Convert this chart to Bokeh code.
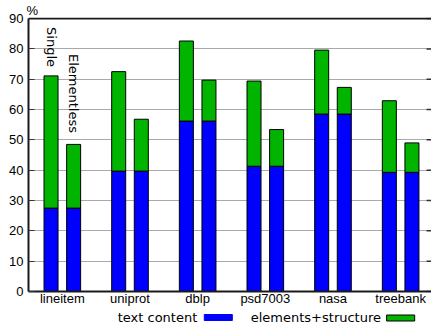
import math

from bokeh.core.properties import value
from bokeh.embed import file_html
from bokeh.layouts import column
from bokeh.models import FixedTicker, Label, Range1d, Span
from bokeh.plotting import figure
from bokeh.resources import INLINE

# Share of document size (%) per dataset
datasets = ["lineitem", "uniprot", "dblp", "psd7003", "nasa", "treebank"]
text_content = [27.5, 39.7, 56.2, 41.3, 58.5, 39.3]
struct_single = [43.6, 32.8, 26.4, 28.1, 21.1, 23.6]
struct_elementless = [21.0, 17.1, 13.5, 12.1, 8.8, 9.7]
y_ticks = [0, 10, 20, 30, 40, 50, 60, 70, 80, 90]
variants = ["Single", "Elementless"]
legend_labels = ["text content", "elements+structure"]

BLUE = "#0000ff"
GREEN = "#00b400"
AXIS = "#1a1a1a"
TICK = "#333333"
TICK_FONT = "Liberation Sans"
TEXT_FONT = "DejaVu Sans"

OFFSET = 0.167
BAR_W = 0.207
Y_TOP = y_ticks[-1]

x_range = Range1d(-0.5, 5.456)
# a hair of headroom so the border line at the top tick is drawn in full
y_range = Range1d(0, Y_TOP + 0.35)

p = figure(
    width=431, height=308,
    x_range=x_range, y_range=y_range,
    output_backend="svg", toolbar_location=None,
    min_border_left=28, min_border_right=0, min_border_top=17, min_border_bottom=17,
    outline_line_color=None,
)

# unit label above the y axis
p.title.text = "%"
p.title.align = "left"
p.title.offset = -2
p.title.standoff = 0
p.title.text_font = TICK_FONT
p.title.text_font_size = "13px"
p.title.text_font_style = "normal"
p.title.text_color = "black"

p.xgrid.visible = False
p.ygrid.ticker = FixedTicker(ticks=y_ticks)
p.ygrid.grid_line_color = "#aaaaaa"
p.ygrid.grid_line_width = 1

idx = list(range(len(datasets)))
totals = {
    "Single": [t + s for t, s in zip(text_content, struct_single)],
    "Elementless": [t + s for t, s in zip(text_content, struct_elementless)],
}
for sign, name in zip((-1, 1), variants):
    xs = [i + sign * OFFSET for i in idx]
    p.vbar(x=xs, width=BAR_W, bottom=0, top=text_content,
           fill_color=BLUE, line_color="black", line_width=1)
    p.vbar(x=xs, width=BAR_W, bottom=text_content, top=totals[name],
           fill_color=GREEN, line_color="black", line_width=1)

# variant labels written vertically over the first group
for sign, name, y0 in zip((-1, 1), variants, (87.2, 78.3)):
    p.add_layout(Label(x=0 + sign * OFFSET, y=y0, text=name, angle=-math.pi / 2,
                       text_align="left", text_baseline="middle",
                       text_font=TEXT_FONT, text_font_size="13px", text_color="black"))

# top border at the last tick and mirrored inward ticks on the right edge
p.add_layout(Span(location=Y_TOP, dimension="width", line_color=AXIS, line_width=2))
p.ray(x=[x_range.end] * len(y_ticks), y=y_ticks, length=5, length_units="screen",
      angle=math.pi, line_color=TICK, line_width=1.5)

# y axis with inward ticks, drawn up to the top border
yax = p.left[0]
yax.ticker = FixedTicker(ticks=y_ticks)
yax.bounds = (0, Y_TOP)
yax.major_tick_in = 6
yax.major_tick_out = 0
yax.minor_tick_line_color = None
yax.major_tick_line_color = TICK
yax.axis_line_width = 2
yax.axis_line_color = AXIS
yax.major_label_text_font = TICK_FONT
yax.major_label_text_font_size = "13px"
yax.major_label_text_color = "black"
yax.major_label_standoff = 5

# x axis with dataset names
xax = p.below[0]
xax.ticker = FixedTicker(ticks=idx)
xax.major_label_overrides = {i: n for i, n in zip(idx, datasets)}
xax.major_tick_line_color = None
xax.major_tick_in = 0
xax.major_tick_out = 0
xax.minor_tick_line_color = None
xax.minor_tick_in = 0
xax.minor_tick_out = 0
xax.axis_line_width = 2
xax.axis_line_color = AXIS
xax.major_label_text_font = TICK_FONT
xax.major_label_text_font_size = "13px"
xax.major_label_text_color = "black"
xax.major_label_standoff = -1

# key row: label followed by its colour swatch
leg = figure(width=431, height=14, x_range=Range1d(0, 431), y_range=Range1d(0, 14),
             output_backend="svg", toolbar_location=None, min_border=0,
             x_axis_location=None, y_axis_location=None, outline_line_color=None)
leg.grid.visible = False
leg.text(x=[180.5, 377], y=[-2, -2], text=legend_labels,
         text_align="right", text_baseline="bottom",
         text_font=value(TEXT_FONT), text_font_size="13px", text_color="black")
leg.quad(left=[188, 383], right=[218, 413], bottom=[2, 1.5], top=[8, 7.5],
         fill_color=[BLUE, GREEN], line_color=[BLUE, "black"], line_width=1)

layout = column(p, leg, spacing=0)
open("out.html", "w").write(file_html(layout, INLINE))
